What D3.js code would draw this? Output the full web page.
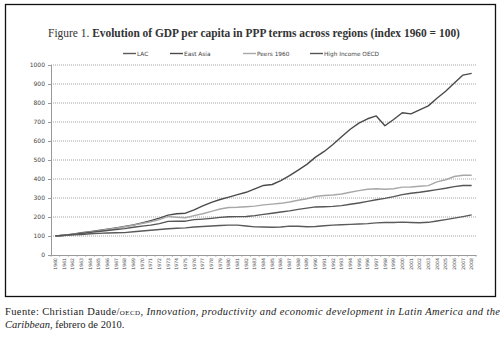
<!DOCTYPE html>
<html>
<head>
<meta charset="utf-8">
<script src="https://cdn.jsdelivr.net/npm/d3@7"></script>
<style>
  body { margin: 0; background: #fff; }
  svg { display: block; }
</style>
</head>
<body>
<svg id="chart" width="504" height="340"></svg>
<script>
const years = d3.range(1960, 2009);
const yTicks = [0, 100, 200, 300, 400, 500, 600, 700, 800, 900, 1000];

const lac = [100, 103, 106, 108, 112, 114, 116, 117, 118, 122,
  126, 130, 134, 138, 141, 143, 147, 150, 153, 155,
  157, 157, 153, 148, 147, 146, 147, 152, 151, 149,
  150, 154, 157, 159, 161, 163, 165, 169, 171, 171,
  173, 171, 170, 172, 179, 186, 194, 202, 211];
const eastAsia = [100, 104, 110, 117, 123, 129, 136, 143, 150, 158,
  169, 181, 194, 210, 217, 220, 238, 258, 277, 292,
  305, 318, 330, 348, 366, 371, 392, 418, 447, 477,
  515, 545, 582, 622, 662, 694, 717, 732, 680, 713,
  749, 743, 764, 785, 825, 862, 905, 947, 956];
const peers1960 = [100, 104, 109, 115, 121, 127, 134, 141, 149, 157,
  166, 175, 186, 203, 199, 196, 207, 217, 230, 242,
  250, 251, 254, 257, 264, 268, 272, 279, 288, 296,
  308, 313, 316, 321, 330, 339, 346, 349, 346, 349,
  357, 358, 362, 365, 385, 396, 413, 420, 420];
const highIncome = [100, 104, 108, 113, 119, 124, 129, 134, 139, 146,
  152, 157, 165, 177, 178, 178, 186, 189, 193, 198,
  201, 202, 203, 207, 214, 220, 226, 232, 240, 247,
  253, 254, 256, 260, 267, 274, 282, 291, 298, 307,
  318, 325, 330, 337, 344, 351, 360, 366, 366];

const series = [
  { name: 'LAC', values: lac, color: '#5a5a5a' },
  { name: 'East Asia', values: eastAsia, color: '#4a4a4a' },
  { name: 'Peers 1960', values: peers1960, color: '#a8a8a8' },
  { name: 'High Income OECD', values: highIncome, color: '#555555' }
];

const serif = "'Liberation Serif', 'Times New Roman', Times, serif";

const svg = d3.select('#chart');

// frame
svg.append('rect')
  .attr('x', 5.5).attr('y', 4.5)
  .attr('width', 490).attr('height', 292)
  .attr('fill', '#fff')
  .attr('stroke', '#111')
  .attr('stroke-width', 1.3);

// title
const title = svg.append('text')
  .attr('x', 254).attr('y', 37)
  .attr('text-anchor', 'middle')
  .attr('font-family', serif)
  .attr('font-size', 12.5)
  .attr('fill', '#333');
title.append('tspan').text('Figure 1. ');
title.append('tspan').attr('font-weight', 'bold').text('Evolution of GDP per capita in PPP terms across regions (index 1960 = 100)');
const tw = title.node().getComputedTextLength();
title.attr('transform', `translate(254,0) scale(${412 / tw},1) translate(-254,0)`);

const margin = { top: 65, left: 51, right: 28, bottom: 85 };
const width = 476 - margin.left;
const height = 255 - margin.top;

const g = svg.append('g').attr('transform', `translate(${margin.left},${margin.top})`);

const x = d3.scaleBand().domain(years).range([0, width]);
const y = d3.scaleLinear().domain([0, 1000]).range([height, 0]);

// grid
g.append('g')
  .selectAll('line')
  .data(yTicks.filter(d => d > 0))
  .enter().append('line')
  .attr('x1', 0).attr('x2', width)
  .attr('y1', d => y(d)).attr('y2', d => y(d))
  .attr('stroke', '#8a8a8a')
  .attr('stroke-width', 0.8)
  .attr('stroke-dasharray', '1,1');

// y axis
const yAxis = g.append('g')
  .call(d3.axisLeft(y).tickValues(yTicks).tickFormat(d3.format('d')).tickSize(3).tickPadding(3));
yAxis.select('.domain').attr('stroke', '#999');
yAxis.selectAll('.tick line').attr('stroke', '#999');
yAxis.selectAll('text')
  .attr('font-family', 'DejaVu Sans, sans-serif')
  .attr('font-size', 6)
  .attr('fill', '#444');

// x axis
const xAxis = g.append('g')
  .attr('transform', `translate(0,${height})`)
  .call(d3.axisBottom(x).tickSize(0).tickPadding(0));
xAxis.select('.domain').attr('stroke', '#999');
xAxis.selectAll('text')
  .attr('font-family', 'DejaVu Sans, sans-serif')
  .attr('font-size', 4.6)
  .attr('fill', '#444')
  .attr('text-anchor', 'end')
  .attr('dy', '0.35em')
  .attr('transform', 'translate(0,3) rotate(-90)');
g.append('g')
  .selectAll('line')
  .data(years.concat([2009]))
  .enter().append('line')
  .attr('x1', (d, i) => i * x.step()).attr('x2', (d, i) => i * x.step())
  .attr('y1', height).attr('y2', height + 2)
  .attr('stroke', '#999')
  .attr('stroke-width', 0.6);

// lines
const line = d3.line()
  .x((d, i) => x(years[i]) + x.bandwidth() / 2)
  .y(d => y(d));

g.selectAll('.series')
  .data(series)
  .enter().append('path')
  .attr('class', 'series')
  .attr('fill', 'none')
  .attr('stroke', d => d.color)
  .attr('stroke-width', 1.4)
  .attr('stroke-linejoin', 'round')
  .attr('d', d => line(d.values));

// legend
const legendX = [123, 170, 243, 310];
const legend = svg.append('g');
series.forEach((s, i) => {
  legend.append('line')
    .attr('x1', legendX[i]).attr('x2', legendX[i] + 13)
    .attr('y1', 53.5).attr('y2', 53.5)
    .attr('stroke', s.color)
    .attr('stroke-width', 1.4);
  legend.append('text')
    .attr('x', legendX[i] + 14).attr('y', 55.5)
    .attr('font-family', 'DejaVu Sans, sans-serif')
    .attr('font-size', 5.8)
    .attr('fill', '#444')
    .text(s.name);
});

// source note
const note1 = svg.append('text')
  .attr('x', 5).attr('y', 315)
  .attr('font-family', serif)
  .attr('font-size', 10.5)
  .attr('fill', '#222')
  .attr('textLength', 495)
  .attr('lengthAdjust', 'spacing');
note1.append('tspan').text('Fuente: Christian Daude/');
note1.append('tspan').attr('font-variant', 'small-caps').text('oecd');
note1.append('tspan').text(', ');
note1.append('tspan').attr('font-family', serif).attr('font-style', 'italic').text('Innovation, productivity and economic development in Latin America and the');

const note2 = svg.append('text')
  .attr('x', 5).attr('y', 328)
  .attr('font-family', serif)
  .attr('font-size', 10.5)
  .attr('fill', '#222');
note2.append('tspan').attr('font-family', serif).attr('font-style', 'italic').text('Caribbean');
note2.append('tspan').text(', febrero de 2010.');
</script>
</body>
</html>
